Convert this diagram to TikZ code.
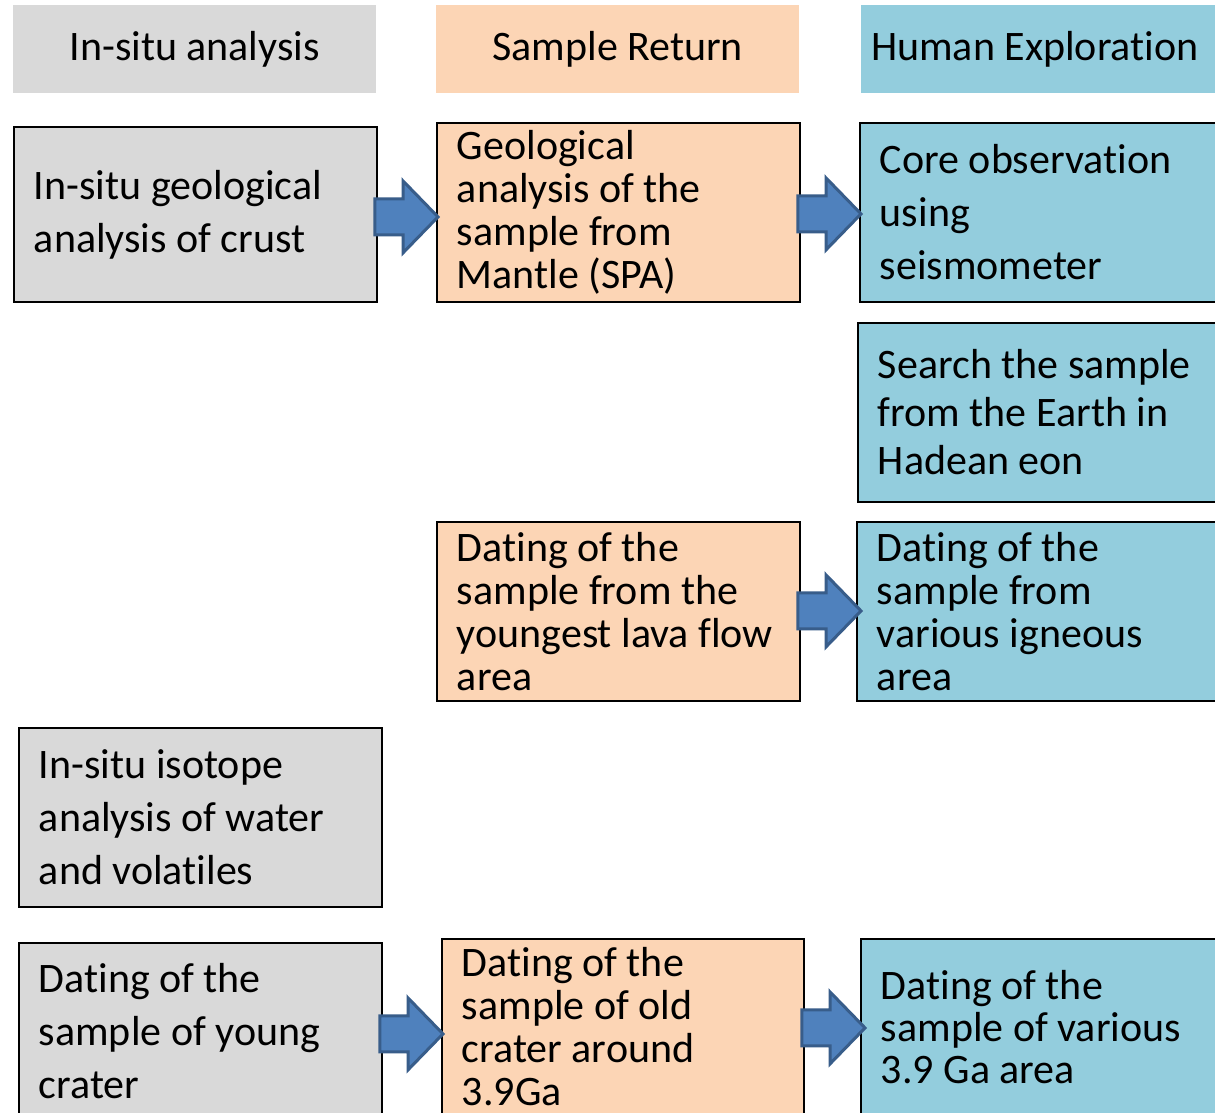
\documentclass[tikz,border=0pt]{standalone}
\usepackage{fontspec}
\setmainfont{Carlito}[Ligatures={NoCommon}]
\usetikzlibrary{calc}
\newcommand\nti{t\kern0pt i}
\definecolor{cgray}{HTML}{D9D9D9}
\definecolor{cpeach}{HTML}{FCD5B5}
\definecolor{cblue}{HTML}{93CDDD}
\definecolor{afill}{HTML}{4F81BD}
\definecolor{adraw}{HTML}{385D8A}
\tikzset{
  box/.style={draw=black, line width=1.8pt, anchor=north west, inner xsep=20pt, inner ysep=0pt, align=flush left},
  head/.style={anchor=north west, inner sep=0pt, minimum height=88pt, font=\fontsize{42}{50}\selectfont},
  fsA/.style={font=\fontsize{42}{53}\selectfont},
  fsB/.style={font=\fontsize{42}{43}\selectfont},
  fsC/.style={font=\fontsize{42}{48}\selectfont},
  fsD/.style={font=\fontsize{42}{42}\selectfont},
  barr/.style={fill=afill, draw=adraw, line width=3pt, line join=miter},
}
\newcommand\barrow[2]{\draw[barr] let \p1=(#1), \p2=(#2) in
  (\x1,\y1-18pt) -- (\x2-35pt,\y1-18pt) -- (\x2-35pt,\y1-36pt) -- (\x2,\y1)
  -- (\x2-35pt,\y1+36pt) -- (\x2-35pt,\y1+18pt) -- (\x1,\y1+18pt) -- cycle;}
\begin{document}
\begin{tikzpicture}[x=1pt,y=-1pt]
\useasboundingbox (0,0) rectangle (1215,1112);
\clip (0,0) rectangle (1215,1112);
\fill[white] (0,0) rectangle (1215,1112);
% headers
\node[head, fill=cgray, minimum width=363pt] (h1) at (13,5) {In-situ analysis};
\node[head, fill=cpeach, minimum width=363pt] (h2) at (436,5) {Sample Return};
\node[head, fill=cblue, minimum width=370pt, inner xsep=10pt, text width=350pt, align=flush left] (h3) at (861,5) {Human Explora\nti on};
% row 1
\node[box, fsA, fill=cgray, minimum width=363pt, minimum height=175pt, text width=323pt] (g1) at (13,126) {In-situ geological\\analysis of crust};
\node[box, fsB, fill=cpeach, minimum width=363pt, minimum height=179pt, text width=323pt] (p1) at (436,122) {Geological\\analysis of the\\sample from\\Mantle (SPA)};
\node[box, fsA, fill=cblue, minimum width=370pt, minimum height=179pt, text width=330pt] (b1) at (859,122) {Core observa\nti on\\using\\seismometer};
% row 2
\node[box, fsC, fill=cblue, minimum width=370pt, minimum height=179pt, text width=330pt] (b2) at (857,322) {Search the sample\\from the Earth in\\Hadean eon};
% row 3
\node[box, fsB, fill=cpeach, minimum width=363pt, minimum height=179pt, text width=323pt] (p3) at (436,521) {Da\nti ng of the\\sample from the\\youngest lava flow\\area};
\node[box, fsB, fill=cblue, minimum width=370pt, minimum height=179pt, text width=330pt] (b3) at (856,521) {Da\nti ng of the\\sample from\\various igneous\\area};
% row 4
\node[box, fsA, fill=cgray, minimum width=363pt, minimum height=179pt, text width=323pt] (g4) at (18,727) {In-situ isotope\\analysis of water\\and vola\nti les};
% row 5
\node[box, fsA, fill=cgray, minimum width=363pt, minimum height=177pt, text width=323pt] (g5) at (18,942) {Da\nti ng of the\\sample of young\\crater};
\node[box, fsB, fill=cpeach, minimum width=362pt, minimum height=176pt, text width=322pt] (p5) at (441,938) {Da\nti ng of the\\sample of old\\crater around\\3.9Ga};
\node[box, fsD, fill=cblue, minimum width=370pt, minimum height=176pt, text width=330pt] (b5) at (860,938) {Da\nti ng of the\\sample of various\\3.9 Ga area};
% arrows
\barrow{$(g1.east)+(-3,2.5)$}{$(p1.west)+(2,0)$}
\barrow{$(p1.east)+(-3,1.5)$}{$(b1.west)+(2,0)$}
\barrow{$(p3.east)+(-3,-0.5)$}{$(b3.west)+(5,0)$}
\barrow{$(g5.east)+(-3,2.5)$}{$(p5.west)+(2,0)$}
\barrow{$(p5.east)+(-3,1)$}{$(b5.west)+(5,0)$}
\end{tikzpicture}
\end{document}
